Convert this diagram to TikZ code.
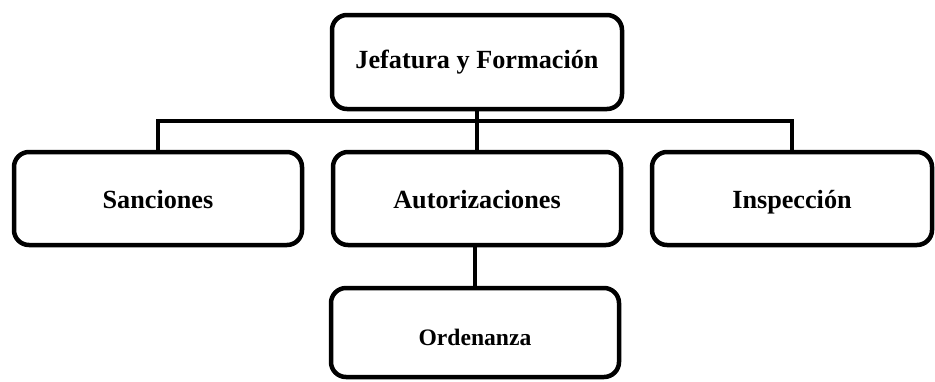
\documentclass[tikz,border=0pt]{standalone}
\usepackage{fontspec}
\setmainfont{Liberation Serif}
\usepackage{tikz}
\usetikzlibrary{positioning,calc}

\begin{document}
\begin{tikzpicture}[
    x=0.5pt, y=-0.5pt,
    unit/.style={rectangle, rounded corners=7.5pt, draw=black, line width=2.25pt, fill=white, minimum width=144pt, minimum height=46.5pt, text height=12.5pt, text depth=3pt, text centered, font=\fontsize{13.1}{15}\selectfont\bfseries},
    link/.style={draw=black, line width=2.25pt}
]
    \useasboundingbox (0,0) rectangle (935,381);
    \node[unit, minimum width=145pt, minimum height=47pt, text height=9.5pt] (jefatura) at (477,62) {Jefatura y Formación};
    \node[unit] (sanciones) at (158,198.5) {Sanciones};
    \node[unit] (autoriz) at (477,198.5) {Autorizaciones};
    \node[unit, minimum width=140pt] (inspeccion) at (792,198.5) {Inspección};
    \node[unit, minimum height=44.5pt, text height=15.5pt, font=\fontsize{11.8}{14}\selectfont\bfseries] (ordenanza) at (475,332.5) {Ordenanza};
    % connectors
    \draw[link] (sanciones.north) -- ++(0,-29) -| (inspeccion.north);
    \draw[link] (jefatura.south) -- (autoriz.north);
    \draw[link] (ordenanza.north) -- (ordenanza.north |- autoriz.south);
\end{tikzpicture}
\end{document}
